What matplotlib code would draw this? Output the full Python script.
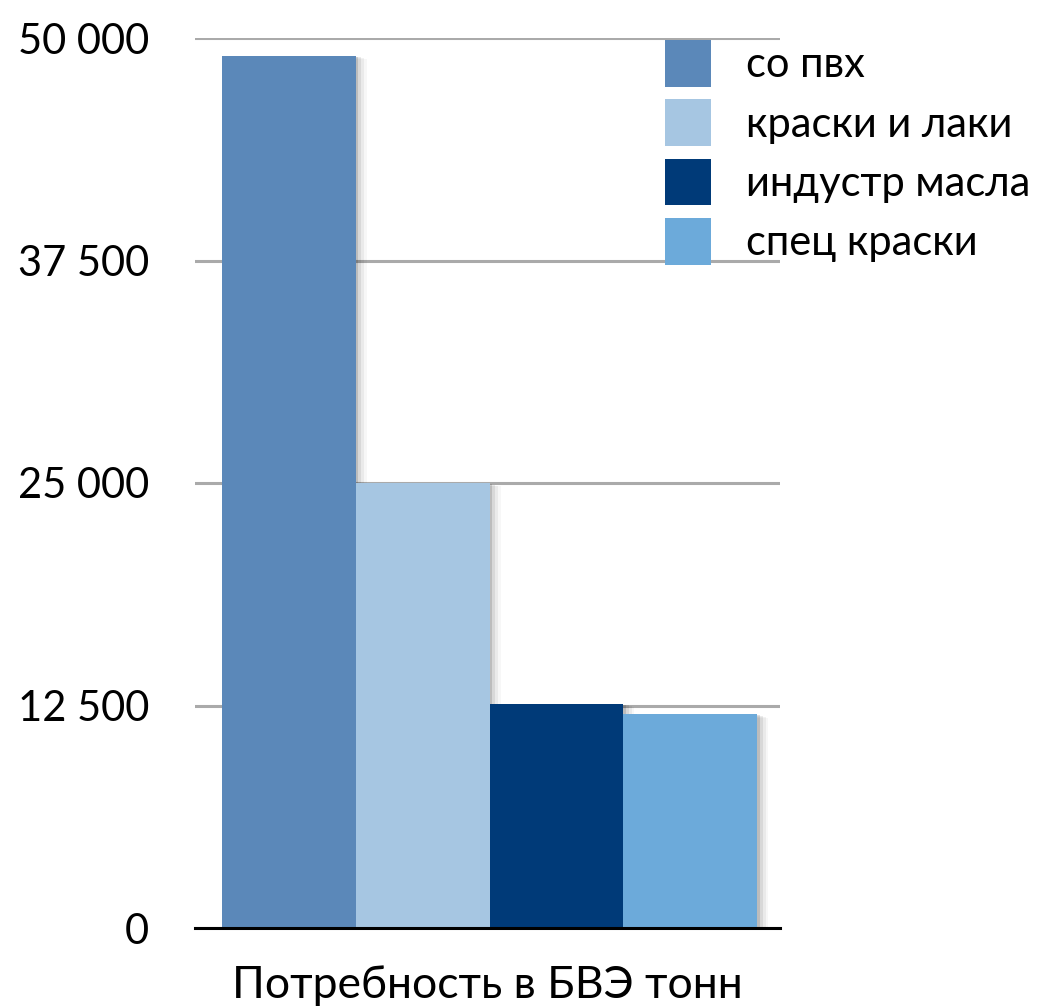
import matplotlib
matplotlib.use("Agg")
import matplotlib.pyplot as plt
from matplotlib.patches import Patch
import matplotlib.patheffects as pe

categories = ["со пвх", "краски и лаки", "индустр масла", "спец краски"]
values = [49000, 25000, 12600, 12000]
colors = ["#5B88B9", "#A6C6E2", "#003A78", "#6CAADA"]
yticks = [0, 12500, 25000, 37500, 50000]
ytick_labels = ["0", "12 500", "25 000", "37 500", "50 000"]
xlabel = "Потребность в БВЭ тонн"

plt.rcParams['font.family'] = ['Lato', 'DejaVu Sans']

fig = plt.figure(figsize=(10.4, 10.06), dpi=100)
ax = fig.add_axes([195/1040, 78/1006, 585/1040, 890/1006])

shadow = [pe.SimplePatchShadow(offset=(dx, -dx*0.3), shadow_rgbFace='black', alpha=a)
          for dx, a in [(2, 0.12), (4, 0.08), (6, 0.05), (8, 0.03)]] + [pe.Normal()]

xs = list(range(len(values)))
for i, (v, c) in enumerate(zip(values, colors)):
    b = ax.bar(xs[i], v, width=1.0, color=c, zorder=3)
    for p in b.patches:
        p.set_path_effects(shadow)

ax.set_xlim(-0.7, 3.67)
ax.set_ylim(0, 50000)
ax.set_yticks(yticks)
ax.set_yticklabels(ytick_labels, fontsize=30)
ax.tick_params(axis='y', length=0, pad=33)
ax.set_xticks([])
ax.yaxis.grid(True, color="#AAAAAA", linewidth=2.2, zorder=0)
ax.set_axisbelow(True)
for s in ["top", "right", "left"]:
    ax.spines[s].set_visible(False)
ax.spines["bottom"].set_linewidth(2.2)
ax.spines["bottom"].set_color("black")
ax.spines["bottom"].set_zorder(4)

ax.set_xlabel(xlabel, fontsize=32, labelpad=27)

handles = [Patch(facecolor=c, edgecolor='none') for c in colors]
fig.legend(handles, categories, loc="upper left",
           bbox_to_anchor=(665/1040, 1 - 40/1006), frameon=False,
           fontsize=30, handlelength=1.1, handleheight=1.35,
           handletextpad=0.85, labelspacing=0.3, borderpad=0, borderaxespad=0)

fig.savefig("out.png", dpi=100, facecolor="white")
